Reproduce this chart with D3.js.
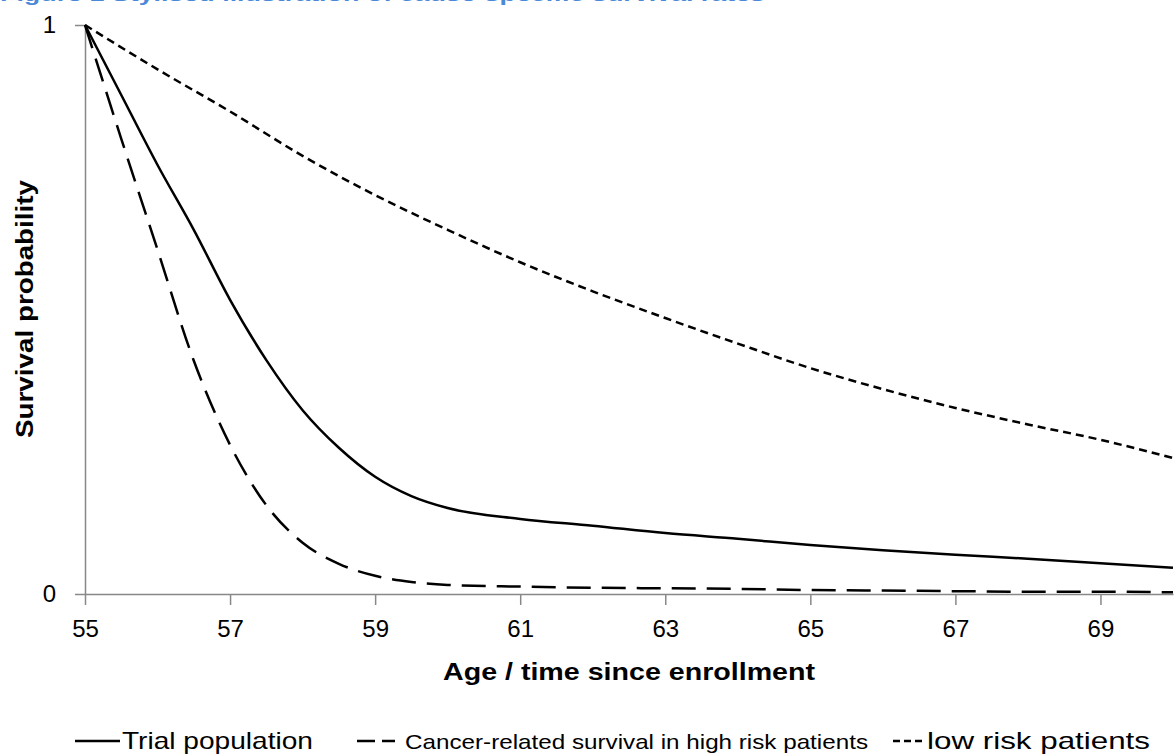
<!DOCTYPE html>
<html>
<head>
<meta charset="utf-8">
<script src="https://cdn.jsdelivr.net/npm/d3@7"></script>
<style>
  html, body { margin: 0; padding: 0; background: #fff; overflow: hidden; }
  svg { display: block; font-family: "Liberation Sans", Arial, sans-serif; }
</style>
</head>
<body>
<svg id="chart" width="1174" height="755"></svg>
<script>
// Ages (years) at which the trial and high-risk curves are sampled
const ages = [55, 55.5, 56, 56.5, 57, 57.5, 58, 58.5, 59, 59.5, 60,
              61, 62, 63, 64, 65, 66, 67, 68, 69, 70];

// Survival probability for each group
const trialPopulation = [1.0, 0.877, 0.754, 0.64, 0.517, 0.411, 0.323, 0.257, 0.206, 0.172, 0.151,
                         0.132, 0.12, 0.107, 0.097, 0.086, 0.077, 0.069, 0.062, 0.054, 0.046];
const highRisk = [1.0, 0.80, 0.605, 0.41, 0.262, 0.156, 0.09, 0.053, 0.032, 0.021, 0.016,
                  0.013, 0.011, 0.01, 0.009, 0.007, 0.006, 0.005, 0.004, 0.004, 0.003];

// Low-risk curve, sampled yearly
const lowRiskAges = [55, 56, 57, 58, 59, 60, 61, 62, 63, 64, 65, 66, 67, 68, 69, 70];
const lowRiskValues = [1.0, 0.922, 0.848, 0.77, 0.701, 0.64, 0.583, 0.532, 0.485, 0.44,
                       0.397, 0.36, 0.327, 0.298, 0.271, 0.239];

const xTicks = [55, 57, 59, 61, 63, 65, 67, 69];
const yTicks = [0, 1];

const titleText = "Figure 1 Stylised illustration of cause-specific survival rates";
const xTitle = "Age / time since enrollment";
const yTitle = "Survival probability";
const legendLabels = ["Trial population", "Cancer-related survival in high risk patients", "low risk patients"];

const svg = d3.select("#chart");
const axisColor = "#888888";

const x = d3.scaleLinear().domain([55, 70]).range([85, 1173]);
const y = d3.scaleLinear().domain([0, 1]).range([594, 25]);

// Caption running off the top edge
svg.append("text")
  .attr("x", 0).attr("y", 1)
  .attr("font-size", 19).attr("font-weight", "bold")
  .attr("fill", "#4a88d8")
  .attr("textLength", 765).attr("lengthAdjust", "spacingAndGlyphs")
  .text(titleText);

// Axes
const xAxis = d3.axisBottom(x).tickValues(xTicks).tickSize(11).tickSizeOuter(0).tickPadding(15);
const gx = svg.append("g").attr("transform", `translate(0,${y(0)})`).call(xAxis)
  .attr("font-size", 24).attr("font-family", "Liberation Sans, Arial, sans-serif");
gx.select(".domain").attr("stroke", axisColor).attr("stroke-width", 1.5);
gx.selectAll(".tick line").attr("stroke", axisColor).attr("stroke-width", 1.5);
gx.selectAll(".tick text").attr("fill", "#000");

const yAxis = d3.axisLeft(y).tickValues(yTicks).tickFormat(d3.format("d"))
  .tickSize(10).tickSizeOuter(0).tickPadding(19);
const gy = svg.append("g").attr("transform", `translate(${x(55)},0)`).call(yAxis)
  .attr("font-size", 24).attr("font-family", "Liberation Sans, Arial, sans-serif");
gy.select(".domain").attr("stroke", axisColor).attr("stroke-width", 1.5);
gy.selectAll(".tick line").attr("stroke", axisColor).attr("stroke-width", 1.5);
gy.selectAll(".tick text").attr("fill", "#000");

// Axis titles
svg.append("text")
  .attr("x", 629).attr("y", 680)
  .attr("text-anchor", "middle")
  .attr("font-size", 24).attr("font-weight", "bold")
  .attr("textLength", 372).attr("lengthAdjust", "spacingAndGlyphs")
  .text(xTitle);

svg.append("text")
  .attr("transform", "translate(33,309) rotate(-90)")
  .attr("text-anchor", "middle")
  .attr("font-size", 24).attr("font-weight", "bold")
  .attr("textLength", 258).attr("lengthAdjust", "spacingAndGlyphs")
  .text(yTitle);

// Curves
const line = d3.line().x(d => x(d[0])).y(d => y(d[1])).curve(d3.curveMonotoneX);
const series = [
  { pts: d3.zip(ages, trialPopulation), dash: null },
  { pts: d3.zip(ages, highRisk), dash: "24 11" },
  { pts: d3.zip(lowRiskAges, lowRiskValues), dash: "8 5" }
];
svg.append("g").selectAll("path").data(series).join("path")
  .attr("d", d => line(d.pts))
  .attr("fill", "none")
  .attr("stroke", "#000")
  .attr("stroke-width", 2.5)
  .attr("stroke-dasharray", d => d.dash);

// Legend
const legend = [
  { x1: 75, x2: 120, dash: null, tx: 122, len: 191, fs: 24 },
  { x1: 357, x2: 395, dash: "18 7", tx: 405, len: 463, fs: 21 },
  { x1: 893, x2: 925, dash: "7 4", tx: 927, len: 223, fs: 24 }
];
const lg = svg.append("g");
legend.forEach((d, i) => {
  lg.append("line")
    .attr("x1", d.x1).attr("x2", d.x2).attr("y1", 741).attr("y2", 741)
    .attr("stroke", "#000").attr("stroke-width", 2.5)
    .attr("stroke-dasharray", d.dash);
  lg.append("text")
    .attr("x", d.tx).attr("y", 749)
    .attr("font-size", d.fs)
    .attr("textLength", d.len).attr("lengthAdjust", "spacingAndGlyphs")
    .text(legendLabels[i]);
});
</script>
</body>
</html>
